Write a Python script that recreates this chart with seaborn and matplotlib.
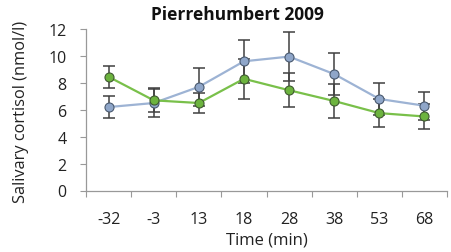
import matplotlib
matplotlib.use("Agg")
import matplotlib.pyplot as plt
import seaborn as sns
import pandas as pd
import numpy as np

times = ["-32", "-3", "13", "18", "28", "38", "53", "68"]
blue_vals = [6.2, 6.5, 7.7, 9.6, 9.95, 8.65, 6.8, 6.3]
blue_err = [0.85, 1.05, 1.4, 1.6, 1.85, 1.55, 1.2, 1.05]
green_vals = [8.45, 6.7, 6.5, 8.3, 7.45, 6.65, 5.75, 5.5]
green_err = [0.8, 0.9, 0.75, 1.5, 1.25, 1.25, 1.05, 0.9]

sns.set_theme(style="white")
plt.rcParams['font.family'] = ['Open Sans', 'DejaVu Sans']

fig = plt.figure(figsize=(4.51, 2.53), dpi=100)
ax = fig.add_axes([86/451, 1-191.5/253, 361/451, 161.5/253])

pos = list(range(len(times)))
df = pd.DataFrame({"pos": pos * 2,
                   "val": blue_vals + green_vals,
                   "grp": ["blue"] * len(times) + ["green"] * len(times)})

ax.errorbar(pos, blue_vals, yerr=blue_err, fmt='none', ecolor='#404040',
            elinewidth=1.1, capsize=4.5, capthick=1.1, zorder=2)
ax.errorbar(pos, green_vals, yerr=green_err, fmt='none', ecolor='#404040',
            elinewidth=1.1, capsize=4.5, capthick=1.1, zorder=2)

sns.lineplot(data=df[df.grp == "blue"], x="pos", y="val", ax=ax, color='#9DB3D4',
             marker='o', markersize=6.5, markerfacecolor='#8FA6C9',
             markeredgecolor='#4a5a70', markeredgewidth=0.8, linewidth=1.6, zorder=3)
sns.lineplot(data=df[df.grp == "green"], x="pos", y="val", ax=ax, color='#79C04A',
             marker='o', markersize=6.5, markerfacecolor='#6CB33E',
             markeredgecolor='#3f5a30', markeredgewidth=0.8, linewidth=1.6, zorder=4)

ax.set_xlim(-0.5, len(times) - 0.5)
ax.set_ylim(0, 12)
ax.set_yticks(range(0, 13, 2))
ax.set_xticks(pos)
ax.set_xticklabels(times)
ax.set_xticks(np.arange(-0.5, len(times), 1.0), minor=True)
ax.tick_params(axis='x', which='major', length=0, pad=15, labelsize=11.5, colors='#222222')
ax.tick_params(axis='x', which='minor', length=4, width=0.8, color='#999999', direction='out', bottom=True)
ax.tick_params(axis='y', length=4, width=0.8, color='#999999', direction='out', left=True,
               labelsize=11.5, labelcolor='#222222', pad=10)

for s in ['top', 'right']:
    ax.spines[s].set_visible(False)
for s in ['left', 'bottom']:
    ax.spines[s].set_color('#999999')
    ax.spines[s].set_linewidth(0.9)

ax.set_xlabel("Time (min)", fontsize=12, color='#222222', labelpad=3)
ax.set_ylabel("")
fig.text(21/451, 1-112/253, "Salivary cortisol (nmol/l)", rotation=90, ha='center', va='center',
         fontsize=11.8, color='#222222')
fig.text(237/451, 1-15/253, "Pierrehumbert 2009", ha='center', va='center',
         fontsize=12.5, fontweight='bold', color='#111111')

fig.savefig("out.png", dpi=100)
